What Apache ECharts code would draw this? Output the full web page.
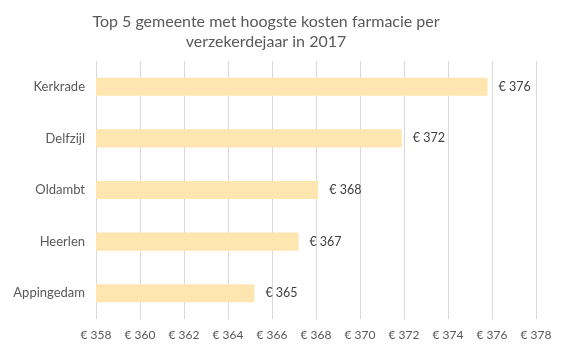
<!DOCTYPE html>
<html>
<head>
<meta charset="utf-8">
<script src="https://cdn.jsdelivr.net/npm/echarts@6/dist/echarts.min.js"></script>
<style>html,body{margin:0;padding:0;background:#fff}#c{width:565px;height:347px}</style>
</head>
<body>
<div id="c"></div>
<script>
const categories = ['Appingedam', 'Heerlen', 'Oldambt', 'Delfzijl', 'Kerkrade'];
const values = [365.2, 367.2, 368.1, 371.9, 375.8];
const titleText = 'Top 5 gemeente met hoogste kosten farmacie per\nverzekerdejaar in 2017';
const axisMin = 358, axisMax = 378, axisStep = 2;

const font = 'Lato, "Noto Sans", sans-serif';
const chart = echarts.init(document.getElementById('c'), null, {renderer: 'canvas'});
chart.setOption({
  animation: false,
  backgroundColor: '#fff',
  title: {
    text: titleText,
    left: 261, top: 7, textAlign: 'center',
    textStyle: {fontFamily: font, fontSize: 16, fontWeight: 'normal', color: '#595959', lineHeight: 20}
  },
  grid: {left: 96, right: 29, top: 61, bottom: 28, containLabel: false},
  xAxis: {
    type: 'value', min: axisMin, max: axisMax, interval: axisStep,
    axisLine: {show: false}, axisTick: {show: false},
    splitLine: {show: true, lineStyle: {color: '#d9d9d9', width: 1}},
    axisLabel: {fontFamily: font, fontSize: 12, color: '#595959', margin: 10, formatter: v => '€ ' + v}
  },
  yAxis: {
    type: 'category', data: categories,
    axisLine: {show: false}, axisTick: {show: false},
    axisLabel: {fontFamily: font, fontSize: 13, color: '#595959', margin: 11}
  },
  series: [{
    type: 'bar', data: values, barCategoryGap: '65%',
    itemStyle: {color: '#FFE6B1'},
    label: {show: true, position: 'right', distance: 11, fontFamily: font, fontSize: 12.5, color: '#404040',
      formatter: p => '€ ' + Math.round(p.value)}
  }]
});
</script>
</body>
</html>
